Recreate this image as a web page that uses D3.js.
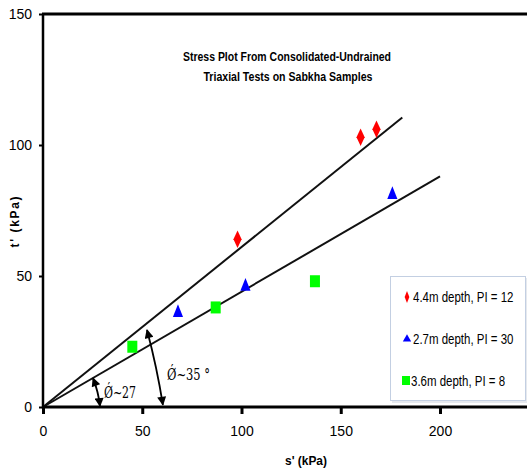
<!DOCTYPE html>
<html>
<head>
<meta charset="utf-8">
<script src="https://cdn.jsdelivr.net/npm/d3@7"></script>
<style>
  body { margin: 0; background: #fff; }
  svg { display: block; }
</style>
</head>
<body>
<svg id="svg" width="527" height="470"></svg>
<script>
// data: s' (kPa), t' (kPa)
var seriesNames = ["4.4m depth, PI = 12", "2.7m depth, PI = 30", "3.6m depth, PI = 8"];
var redS = [98, 160, 168];
var redT = [64, 103, 106];
var blueS = [68, 102, 176];
var blueT = [36, 46, 81];
var greenS = [45, 87, 137];
var greenT = [23, 38, 48];
// failure envelopes (hand drawn)
var line35 = [[0, 0], [181, 110.5]];
var line27 = [[0, 0], [200, 88]];
var arrow35 = [[52.4, 29.4], [60.4, 0.8]];
var arrow27 = [[25.2, 11], [28.7, 0.3]];
var xTicks = [0, 50, 100, 150, 200];
var yTicks = [0, 50, 100, 150];

var width = 527, height = 470;
var margin = {top: 14, left: 43, bottom: 63};

var x = d3.scaleLinear().domain([0, 200]).range([margin.left, 440]);
var y = d3.scaleLinear().domain([0, 150]).range([height - margin.bottom, margin.top]);

var svg = d3.select("#svg");

// title
svg.append("text")
    .attr("x", 287).attr("y", 61)
    .attr("text-anchor", "middle")
    .attr("font-family", "Liberation Sans, Arial, sans-serif")
    .attr("font-weight", "bold")
    .attr("font-size", 12)
    .attr("textLength", 208).attr("lengthAdjust", "spacingAndGlyphs")
    .text("Stress Plot From Consolidated-Undrained");
svg.append("text")
    .attr("x", 288).attr("y", 81)
    .attr("text-anchor", "middle")
    .attr("font-family", "Liberation Sans, Arial, sans-serif")
    .attr("font-weight", "bold")
    .attr("font-size", 12)
    .attr("textLength", 169).attr("lengthAdjust", "spacingAndGlyphs")
    .text("Triaxial Tests on Sabkha Samples");

// envelopes
var lineGen = d3.line().x(d => x(d[0])).y(d => y(d[1]));
svg.append("g")
    .attr("fill", "none")
    .attr("stroke", "#111")
    .attr("stroke-width", 2)
  .selectAll("path")
  .data([line35, line27])
  .join("path")
    .attr("d", lineGen);

// arrowheads
var defs = svg.append("defs");
defs.append("marker")
    .attr("id", "head")
    .attr("viewBox", "0 0 10 10")
    .attr("refX", 9).attr("refY", 5)
    .attr("markerWidth", 6.5).attr("markerHeight", 5)
    .attr("markerUnits", "strokeWidth")
    .attr("orient", "auto-start-reverse")
  .append("path")
    .attr("d", "M0,0L10,5L0,10z")
    .attr("fill", "#000");

svg.append("g")
    .attr("fill", "none")
    .attr("stroke", "#000")
    .attr("stroke-width", 1.8)
  .selectAll("path")
  .data([arrow35, arrow27])
  .join("path")
    .attr("d", function(d) {
      var x0 = x(d[0][0]), y0 = y(d[0][1]), x1 = x(d[1][0]), y1 = y(d[1][1]);
      var mx = (x0 + x1) / 2 + 2, my = (y0 + y1) / 2;
      return "M" + x0 + "," + y0 + "Q" + mx + "," + my + " " + x1 + "," + y1;
    })
    .attr("marker-start", "url(#head)")
    .attr("marker-end", "url(#head)");

// angle labels
svg.append("text")
    .attr("x", 167).attr("y", 380)
    .attr("font-family", "DejaVu Serif, Times New Roman, serif")
    .attr("font-size", 16)
    .attr("textLength", 43).attr("lengthAdjust", "spacingAndGlyphs")
    .text("\u01FE~35 °");
svg.append("text")
    .attr("x", 104).attr("y", 398)
    .attr("font-family", "DejaVu Serif, Times New Roman, serif")
    .attr("font-size", 16)
    .attr("textLength", 32).attr("lengthAdjust", "spacingAndGlyphs")
    .text("\u01FE~27");

// axes
var xAxis = svg.append("g")
    .attr("transform", "translate(0," + y(0) + ")")
    .call(d3.axisBottom(x).tickValues(xTicks).tickSize(7).tickPadding(15));
xAxis.select(".domain").remove();
xAxis.selectAll(".tick line").attr("stroke", "#000").attr("stroke-width", 3);

var yAxis = svg.append("g")
    .attr("transform", "translate(" + margin.left + ",0)")
    .call(d3.axisLeft(y).tickValues(yTicks).tickSize(4).tickPadding(7));
yAxis.select(".domain").remove();
yAxis.selectAll(".tick line").attr("stroke", "#000").attr("stroke-width", 2);

svg.selectAll(".tick text")
    .attr("font-family", "Liberation Sans, Arial, sans-serif")
    .attr("font-size", 14)
    .attr("fill", "#000");
xAxis.selectAll(".tick text").attr("dy", "0.5em");

// axis lines + top border
svg.append("line")
    .attr("x1", margin.left).attr("x2", width)
    .attr("y1", y(0)).attr("y2", y(0))
    .attr("stroke", "#000").attr("stroke-width", 3);
svg.append("line")
    .attr("x1", margin.left - 1).attr("x2", width)
    .attr("y1", y(150)).attr("y2", y(150))
    .attr("stroke", "#000").attr("stroke-width", 3);
svg.append("line")
    .attr("x1", margin.left).attr("x2", margin.left)
    .attr("y1", y(150)).attr("y2", y(0) + 1.5)
    .attr("stroke", "#000").attr("stroke-width", 2.5);

// axis titles
svg.append("text")
    .attr("x", 306).attr("y", 465)
    .attr("text-anchor", "middle")
    .attr("font-family", "Liberation Sans, Arial, sans-serif")
    .attr("font-weight", "bold")
    .attr("font-size", 13)
    .attr("textLength", 42).attr("lengthAdjust", "spacingAndGlyphs")
    .text("s' (kPa)");
svg.append("text")
    .attr("transform", "translate(19,222) rotate(-90)")
    .attr("text-anchor", "middle")
    .attr("font-family", "Liberation Sans, Arial, sans-serif")
    .attr("font-weight", "bold")
    .attr("font-size", 12)
    .attr("textLength", 51).attr("lengthAdjust", "spacing")
    .text("t' (kPa)");

// markers
var diamond = d3.symbol().type(d3.symbolDiamond).size(80);
var triangle = d3.symbol().type(d3.symbolTriangle).size(55);

svg.append("g").selectAll("path")
  .data(d3.zip(redS, redT))
  .join("path")
    .attr("d", diamond)
    .attr("fill", "#ff0000")
    .attr("transform", d => "translate(" + x(d[0]) + "," + y(d[1]) + ") scale(0.85,1.05)");

svg.append("g").selectAll("path")
  .data(d3.zip(blueS, blueT))
  .join("path")
    .attr("d", triangle)
    .attr("fill", "#0000ff")
    .attr("transform", d => "translate(" + x(d[0]) + "," + y(d[1]) + ") scale(0.9,1.3)");

svg.append("g").selectAll("rect")
  .data(d3.zip(greenS, greenT))
  .join("rect")
    .attr("x", d => x(d[0]) - 5)
    .attr("y", d => y(d[1]) - 6)
    .attr("width", 10).attr("height", 12)
    .attr("fill", "#00ff00");

// legend
var legend = svg.append("g").attr("transform", "translate(390,276)");
legend.append("rect")
    .attr("x", 2).attr("y", 2).attr("width", 135).attr("height", 125)
    .attr("fill", "#e6e9ee");
legend.append("rect")
    .attr("x", 0.5).attr("y", 0.5).attr("width", 135).attr("height", 124)
    .attr("fill", "#fff")
    .attr("stroke", "#c3cfe2").attr("stroke-width", 1);

var rows = legend.selectAll(".row")
  .data(seriesNames)
  .join("g")
    .attr("class", "row")
    .attr("transform", (d, i) => "translate(0," + (21 + i * 42) + ")");

rows.each(function(d, i) {
  var g = d3.select(this);
  if (i === 0) {
    g.append("path").attr("d", d3.symbol().type(d3.symbolDiamond).size(30))
      .attr("transform", "translate(17,0) scale(0.8,1.2)").attr("fill", "#ff0000");
  } else if (i === 1) {
    g.append("path").attr("d", d3.symbol().type(d3.symbolTriangle).size(30))
      .attr("transform", "translate(17,0)").attr("fill", "#0000ff");
  } else {
    g.append("rect").attr("x", 12).attr("y", -5).attr("width", 8).attr("height", 9)
      .attr("fill", "#00ff00");
  }
  // condensed look: squeeze the text horizontally
  g.append("text")
    .attr("transform", "translate(" + (i === 2 ? 21 : 23) + ",5) scale(0.82,1)")
    .attr("font-family", "Liberation Sans, Arial, sans-serif")
    .attr("font-size", 14)
    .text(d);
});
</script>
</body>
</html>
